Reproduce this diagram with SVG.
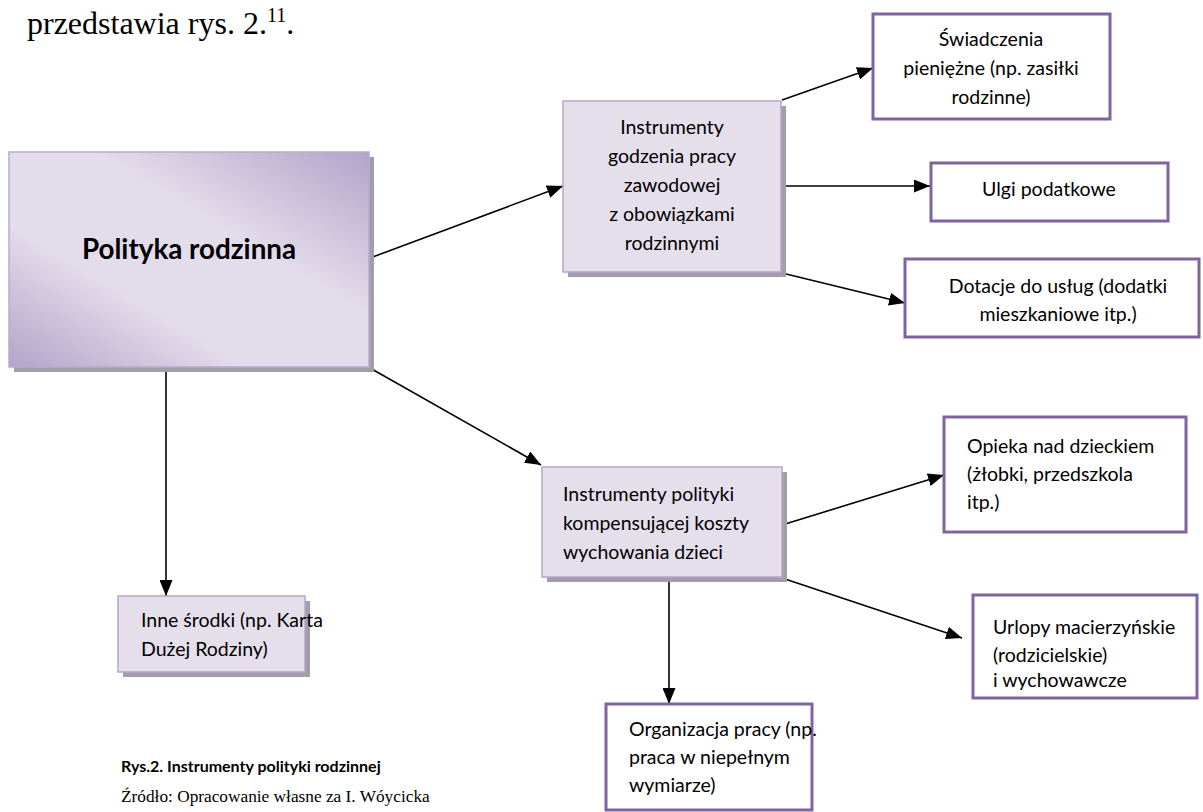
<svg xmlns="http://www.w3.org/2000/svg" width="1203" height="812" viewBox="0 0 1203 812">
<defs>
<linearGradient id="mainGrad" x1="0" y1="1" x2="1" y2="0">
<stop offset="0" stop-color="#b3a3c9"/>
<stop offset="0.33" stop-color="#e3dcea"/>
<stop offset="0.62" stop-color="#e3dcea"/>
<stop offset="1" stop-color="#b3a3c9"/>
</linearGradient>
<marker id="arr" markerUnits="userSpaceOnUse" markerWidth="17" markerHeight="13" refX="16" refY="6.5" orient="auto">
<path d="M0,0 L16,6.5 L0,13 Z" fill="#000"/>
</marker>
<style>
.sh{fill:#a39ca9}
.pb{fill:#e5dfec;stroke:#b5a5cb;stroke-width:1.5}
.wb{fill:#fff;stroke:#8064a2;stroke-width:3}
.t{font-family:Lato,"Open Sans",sans-serif;font-size:19.5px;fill:#000}
.title{font-family:Lato,"Open Sans",sans-serif;font-size:27.8px;font-weight:bold;fill:#000;text-anchor:middle}
.cap{font-family:Lato,"Open Sans",sans-serif;font-size:16px;font-weight:bold;fill:#000}
.c{text-anchor:middle}
.cn line{stroke:#000;stroke-width:1.6;marker-end:url(#arr)}
.serif{font-family:"Liberation Serif",serif;fill:#000}
</style>
</defs>
<rect width="1203" height="812" fill="#fff"/>
<text class="serif" x="27" y="34" font-size="32">przedstawia rys. 2.<tspan font-size="20" dy="-12">11</tspan><tspan dy="12">.</tspan></text>

<g id="connectors" class="cn">
<line x1="370" y1="258" x2="563" y2="186"/>
<line x1="370" y1="368" x2="541" y2="465"/>
<line x1="166" y1="368" x2="166" y2="596"/>
<line x1="782" y1="100" x2="873" y2="68"/>
<line x1="782" y1="186" x2="930" y2="186"/>
<line x1="782" y1="273" x2="905" y2="303"/>
<line x1="782" y1="525" x2="944" y2="475"/>
<line x1="782" y1="578" x2="962" y2="638"/>
<line x1="669" y1="577" x2="669" y2="704"/>
</g>

<g id="node-main">
<rect class="sh" x="14" y="157" width="360" height="215"/>
<rect x="9" y="152" width="360" height="215" fill="url(#mainGrad)" stroke="#b9aad0" stroke-width="1.5"/>
<text class="title" x="189" y="259">Polityka rodzinna</text>
</g>

<g id="node-godzenia">
<rect class="sh" x="568" y="106" width="218" height="171"/>
<rect class="pb" x="563" y="101" width="218" height="171"/>
<text class="t c" x="672" y="134">Instrumenty</text>
<text class="t c" x="672" y="163">godzenia pracy</text>
<text class="t c" x="672" y="192">zawodowej</text>
<text class="t c" x="672" y="221">z obowiązkami</text>
<text class="t c" x="672" y="250">rodzinnymi</text>
</g>

<g id="node-kompensujacej">
<rect class="sh" x="547" y="472" width="240" height="110"/>
<rect class="pb" x="542" y="467" width="240" height="110"/>
<text class="t" x="563" y="501">Instrumenty polityki</text>
<text class="t" x="563" y="530">kompensującej koszty</text>
<text class="t" x="563" y="559">wychowania dzieci</text>
</g>

<g id="node-inne">
<rect class="sh" x="123" y="601" width="187" height="76"/>
<rect class="pb" x="118" y="596" width="187" height="76"/>
<text class="t" x="141" y="627">Inne środki (np. Karta</text>
<text class="t" x="141" y="656">Dużej Rodziny)</text>
</g>

<g id="node-swiadczenia">
<rect class="wb" x="873" y="14" width="237" height="105"/>
<text class="t c" x="991" y="46">Świadczenia</text>
<text class="t c" x="991" y="75">pieniężne (np. zasiłki</text>
<text class="t c" x="991" y="104">rodzinne)</text>
</g>

<g id="node-ulgi">
<rect class="wb" x="931" y="163" width="237" height="58"/>
<text class="t c" x="1049" y="196">Ulgi podatkowe</text>
</g>

<g id="node-dotacje">
<rect class="wb" x="905" y="259" width="294" height="78"/>
<text class="t c" x="1058" y="293">Dotacje do usług (dodatki</text>
<text class="t c" x="1058" y="321">mieszkaniowe itp.)</text>
</g>

<g id="node-opieka">
<rect class="wb" x="944" y="417" width="242" height="115"/>
<text class="t" x="967" y="453">Opieka nad dzieckiem</text>
<text class="t" x="967" y="481">(żłobki, przedszkola</text>
<text class="t" x="967" y="509">itp.)</text>
</g>

<g id="node-urlopy">
<rect class="wb" x="973" y="595" width="224" height="103"/>
<text class="t" x="993" y="634">Urlopy macierzyńskie</text>
<text class="t" x="993" y="662">(rodzicielskie)</text>
<text class="t" x="993" y="687">i wychowawcze</text>
</g>

<g id="node-organizacja">
<rect class="wb" x="606" y="704" width="206" height="106"/>
<text class="t" x="629" y="736">Organizacja pracy (np.</text>
<text class="t" x="629" y="764">praca w niepełnym</text>
<text class="t" x="629" y="792">wymiarze)</text>
</g>

<text class="cap" x="121" y="772">Rys.2. Instrumenty polityki rodzinnej</text>
<text class="serif" x="121" y="802" font-size="17.3">Źródło: Opracowanie własne za I. Wóycicka</text>
</svg>
